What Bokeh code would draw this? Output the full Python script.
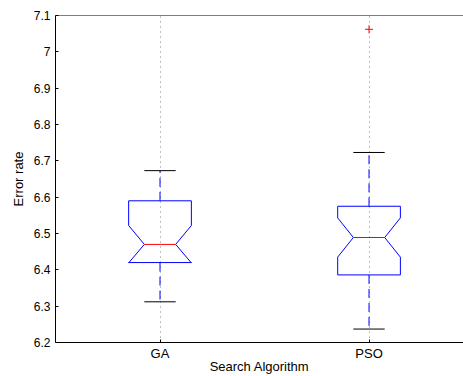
import numpy as np
from bokeh.plotting import figure
from bokeh.models import FixedTicker, CustomJSTickFormatter, Span, Range1d
from bokeh.embed import file_html
from bokeh.resources import INLINE

# ---- data ----
groups = ["GA", "PSO"]
q1 = [6.420, 6.386]
median = [6.470, 6.489]
q3 = [6.590, 6.575]
notch_lo = [6.419, 6.435]
notch_hi = [6.522, 6.543]
whisker_lo = [6.312, 6.237]
whisker_hi = [6.673, 6.723]
outlier_group = ["PSO"]
outlier_value = [7.062]
y_ticks = [6.2, 6.3, 6.4, 6.5, 6.6, 6.7, 6.8, 6.9, 7.0, 7.1]

# ---- style ----
BOX_HW = 0.15     # half width of box
NOTCH_HW = 0.075  # half width at the median (notch)
CAP_HW = 0.075    # half width of whisker caps
FONT = "Liberation Sans"

pos = [groups.index(g) + 1 for g in groups]

p = figure(width=463, height=376, output_backend="svg", toolbar_location=None,
           x_range=Range1d(0.5, 2.452), y_range=Range1d(6.2, 7.1),
           min_border_left=55, min_border_top=15, min_border_right=0, min_border_bottom=34)
p.outline_line_color = None
p.background_fill_color = "white"
p.border_fill_color = "white"

# grid: dotted vertical lines at each group
p.ygrid.grid_line_color = None
p.xgrid.ticker = FixedTicker(ticks=pos)
p.xgrid.grid_line_color = "#808080"
p.xgrid.grid_line_dash = "1 4"
p.xgrid.grid_line_width = 1

# boxes (notched)
xs, ys = [], []
for i, x in enumerate(pos):
    xs.append([x - BOX_HW, x - BOX_HW, x - NOTCH_HW, x - BOX_HW, x - BOX_HW,
               x + BOX_HW, x + BOX_HW, x + NOTCH_HW, x + BOX_HW, x + BOX_HW])
    ys.append([q1[i], notch_lo[i], median[i], notch_hi[i], q3[i],
               q3[i], notch_hi[i], median[i], notch_lo[i], q1[i]])
p.patches(xs, ys, fill_color=None, line_color="#0000ff", line_width=1)

# whiskers
p.segment(x0=pos, y0=q3, x1=pos, y1=whisker_hi, line_color="#0000ff",
          line_dash="9 5", line_width=1)
p.segment(x0=pos, y0=q1, x1=pos, y1=whisker_lo, line_color="#0000ff",
          line_dash="9 5", line_width=1)

# caps
p.segment(x0=[x - CAP_HW for x in pos], y0=whisker_hi,
          x1=[x + CAP_HW for x in pos], y1=whisker_hi, line_color="black", line_width=1)
p.segment(x0=[x - CAP_HW for x in pos], y0=whisker_lo,
          x1=[x + CAP_HW for x in pos], y1=whisker_lo, line_color="black", line_width=1)

# medians
p.segment(x0=[x - NOTCH_HW for x in pos], y0=median,
          x1=[x + NOTCH_HW for x in pos], y1=median, line_color="#ff0000", line_width=1)

# outliers
ox = [groups.index(g) + 1 for g in outlier_group]
p.scatter(ox, outlier_value, marker="cross", size=8, line_color="#ff0000", line_width=1)

# top border line
p.add_layout(Span(location=7.1, dimension="width", line_color="black", line_width=1))

# axes
for ax in (p.xaxis[0], p.yaxis[0]):
    ax.axis_line_color = "black"
    ax.major_tick_line_color = "black"
    ax.major_tick_in = 3
    ax.major_tick_out = 0
    ax.minor_tick_line_color = None
    ax.major_label_text_font = FONT
    ax.major_label_text_font_size = "12px"
    ax.major_label_text_color = "black"
    ax.axis_label_text_font = FONT
    ax.axis_label_text_font_size = "13px"
    ax.axis_label_text_font_style = "normal"
    ax.axis_label_text_color = "black"

p.xaxis.ticker = FixedTicker(ticks=pos)
p.xaxis.formatter = CustomJSTickFormatter(args=dict(labels=groups),
                                          code="return labels[Math.round(tick) - 1];")
p.xaxis.axis_label = "Search Algorithm"
p.xaxis.major_label_text_font_size = "13px"
p.xaxis.major_label_standoff = 3
p.xaxis.axis_label_standoff = -5

p.yaxis.ticker = FixedTicker(ticks=y_ticks)
p.yaxis.formatter = CustomJSTickFormatter(code="return String(parseFloat(tick.toFixed(1)));")
p.yaxis.axis_label = "Error rate"
p.yaxis.major_label_standoff = 5
p.yaxis.axis_label_standoff = 5

open("out.html", "w").write(file_html(p, INLINE))
